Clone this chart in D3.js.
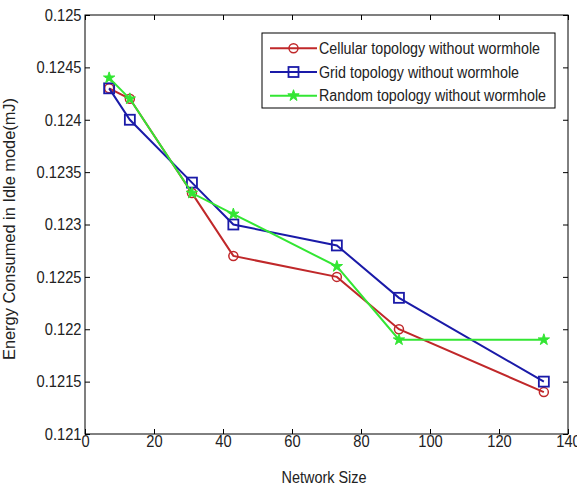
<!DOCTYPE html>
<html><head><meta charset="utf-8">
<script src="https://cdn.jsdelivr.net/npm/d3@7"></script>
<style>body{margin:0;background:#fff}svg{display:block;font-family:"Liberation Sans",Arial,sans-serif}</style>
</head><body><svg id="c" width="577" height="488"></svg>
<script>
const networkSize = [7, 13, 31, 43, 73, 91, 133];
const cellular = [0.1243, 0.1242, 0.1233, 0.1227, 0.1225, 0.1220, 0.1214];
const grid = [0.1243, 0.1240, 0.1234, 0.1230, 0.1228, 0.1223, 0.1215];
const random = [0.1244, 0.1242, 0.1233, 0.1231, 0.1226, 0.1219, 0.1219];
const seriesNames = ["Cellular topology without wormhole", "Grid topology without wormhole", "Random topology without wormhole"];
const xTicks = [0, 20, 40, 60, 80, 100, 120, 140];
const yTicks = [0.121, 0.1215, 0.122, 0.1225, 0.123, 0.1235, 0.124, 0.1245, 0.125];

const svg = d3.select("#c");
const L = 85, R = 568, T = 15, B = 434;
const x = d3.scaleLinear().domain([0, 140]).range([L, R]);
const y = d3.scaleLinear().domain([0.121, 0.125]).range([B, T]);

function squeeze(sel, k) {
  sel.each(function () {
    const w = this.getComputedTextLength();
    d3.select(this).attr("textLength", w * k).attr("lengthAdjust", "spacingAndGlyphs");
  });
}

svg.append("rect").attr("x", L).attr("y", T).attr("width", R - L).attr("height", B - T)
  .attr("fill", "#fff").attr("stroke", "#000").attr("stroke-width", 1);

const fmt = d => String(d);
const gx = svg.append("g").attr("transform", `translate(0,${B})`)
  .call(d3.axisBottom(x).tickValues(xTicks).tickSize(-5).tickPadding(1.3).tickFormat(fmt));
const gxt = svg.append("g").attr("transform", `translate(0,${T})`)
  .call(d3.axisTop(x).tickValues(xTicks).tickSize(-5).tickFormat(""));
const gy = svg.append("g").attr("transform", `translate(${L},0)`)
  .call(d3.axisLeft(y).tickValues(yTicks).tickSize(-5).tickPadding(3.5).tickFormat(fmt));
const gyr = svg.append("g").attr("transform", `translate(${R},0)`)
  .call(d3.axisRight(y).tickValues(yTicks).tickSize(-5).tickFormat(""));
[gx, gxt, gy, gyr].forEach(g => {
  g.select(".domain").remove();
  g.selectAll("line").attr("stroke", "#000");
  g.selectAll("text").attr("fill", "#222").style("font-size", "16.5px").style("font-family", '"Liberation Sans",Arial,sans-serif');
  squeeze(g.selectAll("text"), 0.89);
});

svg.append("text").attr("x", 324).attr("y", 483).attr("text-anchor", "middle")
  .style("font-size", "16px").attr("fill", "#222").attr("textLength", 85).attr("lengthAdjust", "spacingAndGlyphs").text("Network Size");
svg.append("text").attr("transform", `translate(15,229) rotate(-90)`).attr("text-anchor", "middle")
  .style("font-size", "16px").attr("fill", "#222").attr("textLength", 262).attr("lengthAdjust", "spacingAndGlyphs").text("Energy Consumed in Idle mode(mJ)");

const series = [
  {vals: cellular, color: "#c0282a", marker: "circle", w: 221},
  {vals: grid, color: "#1a1aa8", marker: "square", w: 200},
  {vals: random, color: "#33e633", marker: "star", w: 227}
];
const line = d3.line().x(d => x(d[0])).y(d => y(d[1]));
function drawMarker(g, type, color, cx, cy) {
  if (type === "circle") g.append("circle").attr("cx", cx).attr("cy", cy).attr("r", 4.5).attr("fill", "none").attr("stroke", color).attr("stroke-width", 1.5);
  else if (type === "square") g.append("rect").attr("x", cx - 5).attr("y", cy - 5).attr("width", 10).attr("height", 10).attr("fill", "none").attr("stroke", color).attr("stroke-width", 1.8);
  else g.append("path").attr("transform", `translate(${cx},${cy})`).attr("d", d3.symbol(d3.symbolStar, 40)()).attr("fill", color).attr("stroke", color).attr("stroke-width", 1);
}
series.forEach(s => {
  const pts = networkSize.map((n, i) => [n, s.vals[i]]);
  svg.append("path").attr("d", line(pts)).attr("fill", "none").attr("stroke", s.color).attr("stroke-width", 2);
  const g = svg.append("g");
  pts.forEach(p => drawMarker(g, s.marker, s.color, x(p[0]), y(p[1])));
});

// legend
const lg = svg.append("g");
lg.append("rect").attr("x", 262).attr("y", 33).attr("width", 293).attr("height", 75).attr("fill", "#fff").attr("stroke", "#000").attr("stroke-width", 1);
series.forEach((s, i) => {
  const yy = 48.3 + i * 23.7;
  lg.append("line").attr("x1", 270).attr("x2", 317).attr("y1", yy).attr("y2", yy).attr("stroke", s.color).attr("stroke-width", 2);
  drawMarker(lg, s.marker, s.color, 293.5, yy);
  lg.append("text").attr("x", 319).attr("y", yy + 5.6).style("font-size", "16px").attr("fill", "#222")
    .attr("textLength", s.w).attr("lengthAdjust", "spacingAndGlyphs").text(seriesNames[i]);
});
</script></body></html>
